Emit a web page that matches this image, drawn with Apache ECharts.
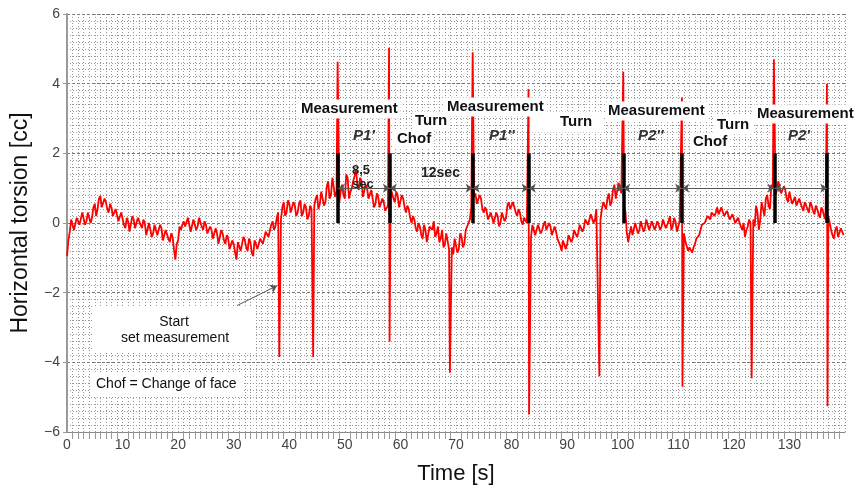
<!DOCTYPE html>
<html>
<head>
<meta charset="utf-8">
<script src="https://cdn.jsdelivr.net/npm/echarts@6/dist/echarts.min.js"></script>
<style>html,body{margin:0;padding:0;background:#fff;}#c{width:858px;height:490px;}</style>
</head>
<body>
<div id="c"></div>
<script>
// ---- data ----
const sampleStart = 0;
const sampleStep = 0.5;
const baseline = [
-0.95,-0.25,0.05,-0.15,0.2,0.0,0.25,0.05,0.35,0.15,0.55,0.4,0.78,0.5,0.6,0.3,0.45,0.15,0.35,0.1,
0.25,-0.15,0.05,-0.2,0.1,-0.1,0.2,-0.15,0.0,-0.3,-0.05,-0.3,-0.1,-0.4,-0.15,-0.45,-0.25,-0.55,-0.4,-1.05,
-0.5,-0.2,0.05,-0.15,0.1,-0.2,0.05,-0.1,0.1,-0.2,-0.05,-0.35,-0.2,-0.5,-0.3,-0.55,-0.3,-0.6,-0.45,-0.8,
-0.6,-1.05,-0.5,-0.75,-0.5,-0.8,-0.55,-0.95,-0.6,-0.7,-0.4,-0.55,-0.2,-0.35,0.05,-0.1,0.3,0.1,0.6,0.3,
0.55,0.25,0.5,0.3,0.65,0.3,0.45,0.2,0.4,0.5,0.8,0.55,0.95,0.6,1.2,0.8,1.35,0.9,0.6,1.1,
0.7,1.3,0.9,1.2,1.55,0.95,1.2,0.8,1.0,0.65,0.9,0.55,0.75,0.4,0.6,0.3,0.75,0.95,0.6,0.8,
0.5,0.7,0.3,0.4,0.0,0.1,-0.25,-0.1,-0.45,-0.2,-0.5,-0.15,0.05,-0.3,-0.55,-0.2,-0.6,-0.35,-0.6,-0.9,
-0.5,-0.75,-0.4,-0.6,-0.1,0.1,0.5,0.85,0.5,0.7,0.3,0.35,0.05,0.25,-0.05,0.2,0.0,0.35,0.15,0.6,
0.35,0.55,0.2,0.3,-0.05,0.1,0.2,-0.4,-0.1,-0.3,0.0,-0.2,0.05,-0.25,-0.1,-0.4,-0.25,-0.55,-0.8,-0.45,
-0.6,-0.3,-0.45,-0.15,-0.3,0.0,-0.15,0.15,0.0,0.3,0.1,0.35,0.1,0.6,0.4,0.85,0.6,1.1,0.75,1.05,
0.9,0.3,-0.55,-0.1,-0.3,0.05,-0.2,0.1,-0.15,0.05,-0.25,0.0,-0.15,0.1,-0.1,0.15,-0.05,0.2,-0.1,0.05,
-0.2,0.0,-0.3,-0.55,-0.7,-0.85,-0.6,-0.4,-0.2,-0.05,0.1,0.2,0.3,0.2,0.45,0.3,0.4,0.15,0.3,0.05,
0.2,-0.05,0.1,-0.2,-0.4,-0.1,0.0,0.1,0.5,-0.2,0.6,0.2,0.8,0.4,1.0,0.8,1.2,0.85,1.05,0.7,
0.9,0.55,0.75,0.45,0.65,0.35,0.55,0.3,0.5,0.25,0.4,0.15,0.35,0.1,0.2,-0.2,-0.45,-0.1,-0.35,-0.2
];
// extra noisy samples between the regular ones (at +0.25 s)
const midNoise = [
-0.5,0.1,-0.2,0.15,-0.05,0.3,-0.05,0.3,0.0,0.45,0.2,0.7,0.45,0.7,0.4,0.55,0.2,0.4,0.05,0.3,
-0.05,0.15,-0.25,0.2,-0.15,0.15,-0.05,0.1,-0.35,0.0,-0.4,-0.05,-0.35,-0.05,-0.5,-0.2,-0.45,-0.3,-0.75,-0.6,
-0.1,-0.05,-0.1,0.15,-0.25,0.1,-0.2,0.15,-0.1,0.05,-0.3,-0.1,-0.45,-0.15,-0.6,-0.2,-0.5,-0.35,-0.75,-0.5,
-0.85,-0.55,-0.8,-0.4,-0.7,-0.45,-0.85,-0.5,-0.75,-0.45,-0.6,-0.25,-0.4,-0.05,-0.2,0.15,0.15,0.45,0.2,0.65,
0.3,0.6,0.2,0.55,0.2,0.55,0.1,0.5,0.3,0.7,0.4,0.9,0.5,1.05,0.7,1.3,0.75,0.7,0.9,0.8,
1.4,0.7,1.0,1.35,1.1,1.3,0.75,1.1,0.7,0.95,0.45,0.85,0.45,0.7,0.35,0.5,1.0,0.7,0.9,0.45,
0.8,0.45,0.5,0.15,0.2,-0.15,0.0,-0.35,-0.05,-0.55,-0.1,-0.2,-0.4,-0.1,-0.45,-0.7,-0.3,-0.75,-0.7,-0.45,
-0.85,-0.3,-0.7,-0.2,0.0,0.45,0.75,0.55,0.8,0.4,0.45,0.1,0.3,0.0,0.3,-0.1,0.3,0.05,0.5,0.4,
0.6,0.3,0.4,0.05,0.15,0.0,-0.3,-0.05,-0.35,-0.05,-0.3,-0.05,-0.2,0.0,-0.35,-0.1,-0.45,-0.65,-0.5,-0.75,
-0.35,-0.55,-0.2,-0.4,-0.05,-0.25,0.1,-0.05,0.25,0.0,0.4,0.0,0.4,0.55,0.7,0.5,0.95,0.7,1.15,0.85,
0.5,-0.3,-0.3,-0.35,0.0,-0.3,0.05,-0.25,0.1,-0.2,0.05,-0.2,0.05,-0.2,0.1,-0.15,0.05,-0.2,0.15,-0.25,
0.05,-0.4,-0.5,-0.8,-0.75,-0.7,-0.45,-0.35,-0.05,0.0,0.2,0.1,0.35,0.3,0.25,0.45,0.2,0.35,0.1,0.25,
0.0,0.15,-0.1,0.0,-0.2,0.1,0.3,-0.1,0.3,0.1,0.4,0.7,0.5,1.1,0.9,0.95,1.15,0.8,0.95,0.6,
0.7,0.65,0.5,0.7,0.45,0.6,0.4,0.6,0.35,0.5,0.25,0.45,0.2,0.3,0.0,-0.35,-0.2,-0.4,-0.15,-0.35
];
// spikes [time, value]
const spikes = [
[38.2,-3.85],[44.3,-3.85],[48.7,4.63],[57.95,5.03],[58.05,-3.4],[68.9,-4.3],[73.0,4.9],
[83.05,3.85],[83.15,-5.5],[95.8,-4.4],[100.1,4.34],[110.65,3.6],[110.75,-4.7],[123.2,-4.46],
[127.2,4.7],[136.75,4.0],[136.85,-5.26]
];
const barTimes = [48.75, 58.1, 73.0, 83.1, 100.1, 110.7, 127.3, 136.8];
const barRange = [0, 2];
const arrowLevel = 1.0;
const xTicks = [0,10,20,30,40,50,60,70,80,90,100,110,120,130];
const yTicks = [-6,-4,-2,0,2,4,6];
const startArrow = [[30.6,-2.37],[37.8,-1.8]];

// ---- build the table ----
let signal = baseline.map((v,i)=>[sampleStart + i*sampleStep, v]);
signal = signal.concat(midNoise.map((v,i)=>[sampleStart + i*sampleStep + sampleStep/2, v]));
// keep spike neighbourhoods clean
signal = signal.filter(p => !spikes.some(s => Math.abs(s[0]-p[0]) < 0.12));
signal = signal.concat(spikes).sort((a,b)=>a[0]-b[0]);

const barData = barTimes.map(t=>({coords:[[t,barRange[0]],[t,barRange[1]]]}));
const arrowData = [];
for (let i=0;i<barTimes.length-1;i++) arrowData.push({coords:[[barTimes[i],arrowLevel],[barTimes[i+1],arrowLevel]]});

const chart = echarts.init(document.getElementById('c'), null, {renderer:'canvas'});
const FONT = '"Liberation Sans", Arial, sans-serif';
const dotted = {color:'#969696', width:1, type:[1,2]};

function boldText(txt, x, y, extra) {
  return Object.assign({type:'text', z:100, x:x, y:y, style:{text:txt, font:'bold 15px '+FONT, fill:'#111',
    verticalAlign:'middle', backgroundColor:'#fff', padding:[2,3]}}, extra||{});
}
function pText(txt, x, y) {
  return {type:'text', z:100, x:x, y:y, style:{text:txt, font:'italic bold 15px '+FONT, fill:'#333', verticalAlign:'middle'}};
}

chart.setOption({
  animation:false,
  backgroundColor:'#fff',
  grid:{left:67, right:13, top:14, bottom:55},
  xAxis:{
    type:'value', min:0, max:140, interval:10,
    name:'Time [s]', nameLocation:'middle', nameGap:31,
    nameTextStyle:{fontFamily:FONT, fontSize:22, color:'#111'},
    axisLine:{show:true, onZero:false, lineStyle:{color:'#888', width:1}},
    axisTick:{show:false},
    minorTick:{show:true, splitNumber:10, length:7, lineStyle:{color:'#999', width:1}},
    axisLabel:{fontFamily:FONT, fontSize:14, color:'#444', margin:6, showMaxLabel:false,
      formatter:v=> xTicks.indexOf(v)>=0 ? String(v) : ''},
    splitLine:{show:true, lineStyle:dotted},
    minorSplitLine:{show:true, lineStyle:dotted}
  },
  yAxis:{
    type:'value', min:-6, max:6, interval:2,
    name:'Horizontal torsion [cc]', nameLocation:'middle', nameGap:35,
    nameTextStyle:{fontFamily:FONT, fontSize:23, color:'#111'},
    axisLine:{show:true, onZero:false, lineStyle:{color:'#999', width:2}},
    axisTick:{show:true, length:4, lineStyle:{color:'#999'}},
    minorTick:{show:false, splitNumber:10},
    axisLabel:{fontFamily:FONT, fontSize:14, color:'#444', margin:7,
      formatter:v=> yTicks.indexOf(v)>=0 ? String(v).replace('-','\u2212') : ''},
    splitLine:{show:true, lineStyle:{color:'#777', width:1, type:[3,2]}},
    minorSplitLine:{show:true, lineStyle:dotted}
  },
  series:[
    {type:'line', data:signal, showSymbol:false, symbol:'none', sampling:null,
      lineStyle:{color:'#ff0000', width:1.8}, z:3},
    {type:'lines', coordinateSystem:'cartesian2d', data:barData, symbol:'none',
      lineStyle:{color:'#000', width:3.5, opacity:1}, z:5},
    {type:'lines', coordinateSystem:'cartesian2d', data:arrowData, symbol:['arrow','arrow'], symbolSize:7,
      lineStyle:{color:'#555', width:1, opacity:1}, z:6},
    {type:'lines', coordinateSystem:'cartesian2d', data:[{coords:startArrow}], symbol:['none','arrow'], symbolSize:7,
      lineStyle:{color:'#555', width:1, opacity:1}, z:6}
  ],
  graphic:[
    boldText('Measurement', 298, 109),
    pText("P1'", 353, 136),
    boldText('Turn', 412, 121),
    boldText('Chof', 394, 139),
    boldText('Measurement', 444, 107),
    pText("P1''", 489, 136),
    {type:'text', z:100, x:530, y:122, style:{text:'Turn', font:'bold 15px '+FONT, fill:'#111', verticalAlign:'middle', backgroundColor:'#fff', padding:[3,10,3,30]}},
    boldText('Measurement', 605, 111),
    pText("P2''", 638, 136),
    boldText('Turn', 714, 125),
    boldText('Chof', 690, 142),
    boldText('Measurement', 754, 114),
    pText("P2'", 788, 136),
    {type:'text', z:100, x:352, y:170, style:{text:'8,5', font:'bold 13px '+FONT, fill:'#222', verticalAlign:'middle'}},
    {type:'text', z:100, x:352, y:184, style:{text:'sec', font:'bold 13px '+FONT, fill:'#222', verticalAlign:'middle'}},
    {type:'text', z:100, x:421, y:173, style:{text:'12sec', font:'bold 14px '+FONT, fill:'#222', verticalAlign:'middle'}},
    {type:'rect', z:99, shape:{x:93, y:306, width:163, height:46}, style:{fill:'#fff'}},
    {type:'text', z:100, x:174, y:322, style:{text:'Start', font:'14px '+FONT, fill:'#111', align:'center', verticalAlign:'middle'}},
    {type:'text', z:100, x:175, y:338, style:{text:'set measurement', font:'14px '+FONT, fill:'#111', align:'center', verticalAlign:'middle'}},
    {type:'text', z:100, x:90, y:384, style:{text:'Chof = Change of face', font:'14px '+FONT, fill:'#111', verticalAlign:'middle', backgroundColor:'#fff', padding:[5,6]}}
  ]
});
</script>
</body>
</html>
